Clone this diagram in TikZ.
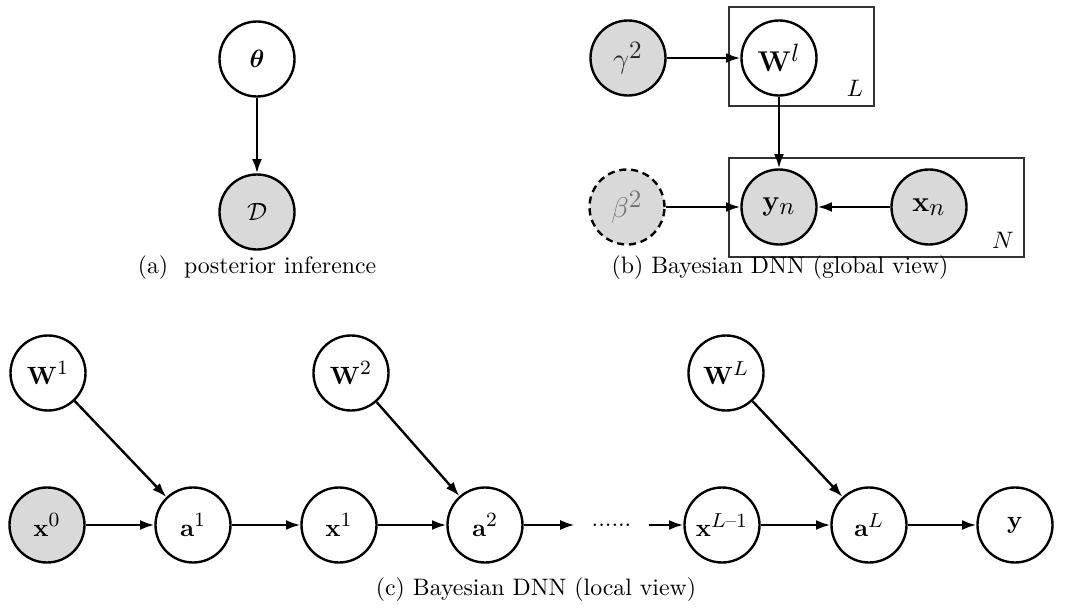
\RequirePackage{fix-cm}
\documentclass[tikz,border=0pt]{standalone}
\usepackage{amsmath,bm}
\usetikzlibrary{arrows.meta}
% larger scripts than the default ratios
\DeclareMathSizes{10.5}{10.5}{8.5}{6.5}
\DeclareMathSizes{12}{12}{10.5}{8}
\begin{document}
\begin{tikzpicture}[x=0.42pt,y=-0.42pt,
  rv/.style={circle,draw=black,line width=1pt,minimum size=31.5pt,inner sep=0pt,
    font=\fontsize{10.5}{12.6}\selectfont},
  obs/.style={rv,fill=black!15},
  hyper/.style={rv,fill=black!15,dashed,dash pattern=on 3pt off 2pt},
  bigtext/.style={font=\fontsize{12}{14}\selectfont},
  plate/.style={draw=black!80,line width=0.5pt},
  edge/.style={line width=1pt,-{Latex[length=6pt,width=4.2pt]}},
  captext/.style={inner sep=0pt}]
\useasboundingbox (0,0) rectangle (1071,610);

% (a) posterior inference
\node[rv]  (theta) at (257,59)  {$\bm{\theta}$};
\node[obs] (D)     at (257,212) {$\mathcal{D}$};
\draw[edge] (theta) -- (D);
\node[captext] (capa) at (257,268) {(a)\ \ posterior inference};

% (b) global view
\draw[plate] (729,7) rectangle (874,106);
\draw[plate] (729,158) rectangle (1024,257);
\node[rv,bigtext]    (Wl)    at (779,58)  {$\mathbf{W}^l$};
\node[obs,bigtext]   (gamma) at (628,58)  {\textcolor{black!85}{$\gamma^2$}};
\node[hyper,bigtext] (beta)  at (627,207) {\textcolor{black!55}{$\beta^2$}};
\node[obs,bigtext]   (yn)    at (779,207) {$\mathbf{y}_n$};
\node[obs,bigtext]   (xn)    at (929,207) {$\mathbf{x}_n$};
\node[captext] (platL) at (855,88)  {$L$};
\node[captext] (platN) at (1003,240) {$N$};
\draw[edge] (gamma) -- (Wl);
\draw[edge] (Wl) -- (yn);
\draw[edge] (beta) -- (yn);
\draw[edge] (xn) -- (yn);
\node[captext] (capb) at (780,268) {(b) Bayesian DNN (global view)};

% (c) local view
\node[rv]  (W1) at (48,373)  {$\mathbf{W}^1$};
\node[rv]  (W2) at (351,373) {$\mathbf{W}^2$};
\node[rv]  (WL) at (726,373) {$\mathbf{W}^L$};
\node[obs] (x0) at (47,525)  {$\mathbf{x}^0$};
\node[rv]  (a1) at (193,525) {$\mathbf{a}^1$};
\node[rv]  (x1) at (339,525) {$\mathbf{x}^1$};
\node[rv]  (a2) at (485,525) {$\mathbf{a}^2$};
\node[inner xsep=7pt,inner ysep=2pt] (dots) at (611.5,525) {......};
\node[rv]  (xLm) at (722,525) {$\mathbf{x}^{L\text{--}1}$};
\node[rv]  (aL) at (869,525) {$\mathbf{a}^L$};
\node[rv]  (y)  at (1015,525) {$\mathbf{y}$};
\draw[edge] (W1) -- (a1);
\draw[edge] (W2) -- (a2);
\draw[edge] (WL) -- (aL);
\draw[edge] (x0) -- (a1);
\draw[edge] (a1) -- (x1);
\draw[edge] (x1) -- (a2);
\draw[edge] (a2) -- (dots);
\draw[edge] (dots) -- (xLm);
\draw[edge] (xLm) -- (aL);
\draw[edge] (aL) -- (y);
\node[captext] (capc) at (536,590) {(c) Bayesian DNN (local view)};
\end{tikzpicture}
\end{document}
